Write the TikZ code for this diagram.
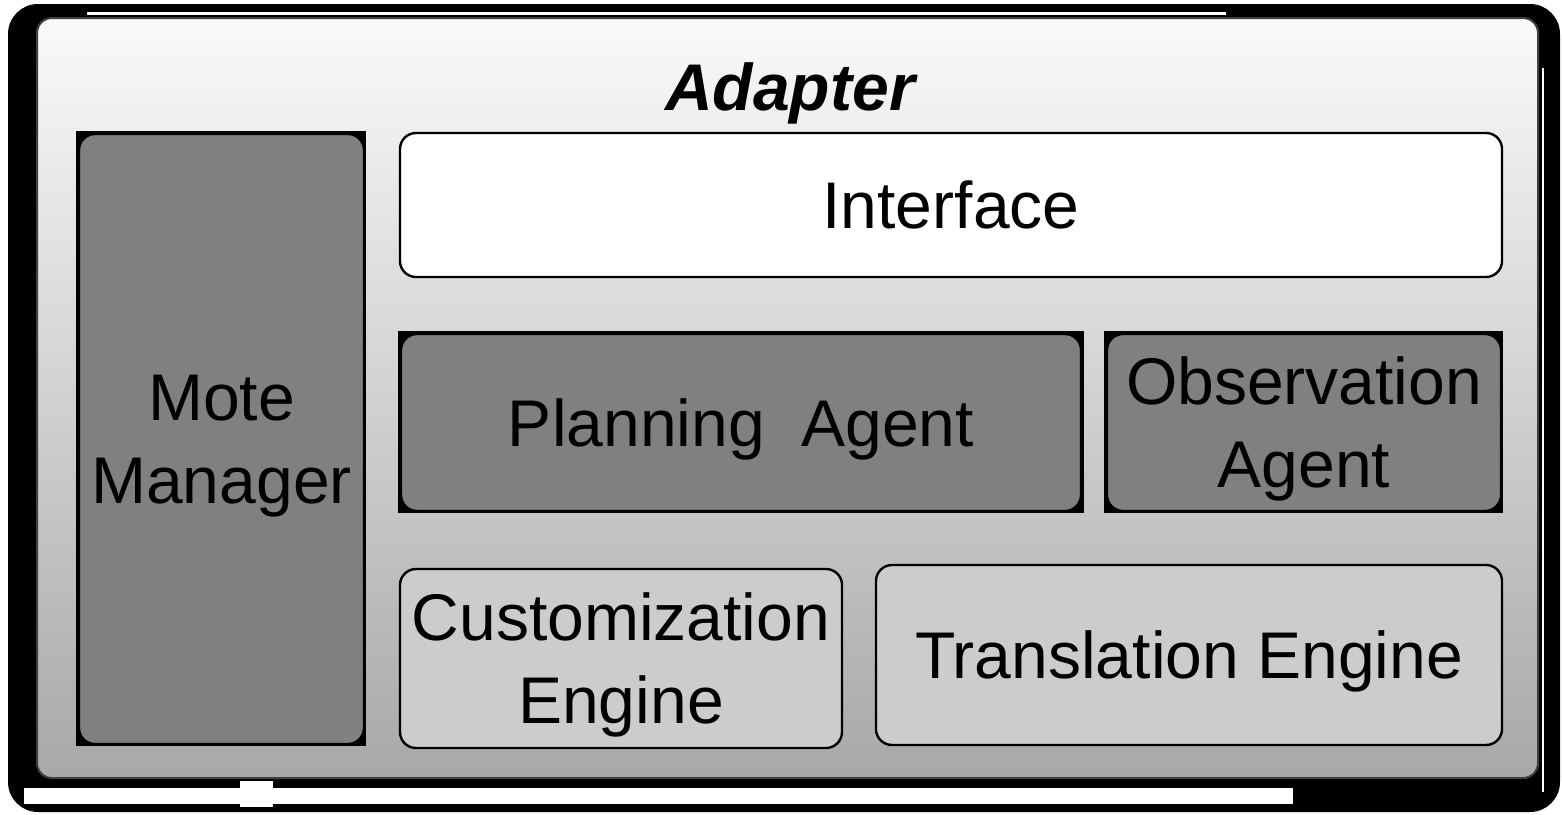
\documentclass[tikz,border=0pt]{standalone}
\usepackage{fontspec}
\setmainfont{Liberation Sans}
\usetikzlibrary{shadings}
\definecolor{midgray}{HTML}{808080}
\definecolor{lightbox}{HTML}{CCCCCC}
\definecolor{paneltop}{HTML}{FAFAFA}
\definecolor{panelbot}{HTML}{A8A8A8}
\begin{document}
\begin{tikzpicture}[x=0.5pt,y=-0.5pt,
  panel/.style={draw=black!75,line width=1pt,rounded corners=7.5pt,
    top color=paneltop,bottom color=panelbot,inner sep=0pt},
  backing/.style={fill=black,draw=none,inner sep=0pt},
  boxtext/.style={inner sep=0pt,align=center,text depth=0pt,
    font=\fontsize{33}{41.5}\selectfont},
  darkbox/.style={boxtext,fill=midgray,draw=black,line width=1.2pt,rounded corners=8pt},
  whitebox/.style={boxtext,fill=white,draw=black,line width=1.2pt,rounded corners=8pt},
  lightbox/.style={boxtext,fill=lightbox,draw=black,line width=1.2pt,rounded corners=8pt}]
\useasboundingbox (0,0) rectangle (1562,814);
% backdrop frame behind the panel
\fill[black,rounded corners=15pt] (8,4) rectangle (1560,812);
\fill[white] (24,788) rectangle (1293,804);
\fill[white] (240,781) rectangle (273,807);
\fill[white] (87,12) rectangle (1226,14.5);
\fill[white] (1541.5,68) rectangle (1543.5,792);
% main panel
\node[panel,minimum width=750.5pt,minimum height=380pt] (adapter) at (787.5,398) {};
\node[text depth=0pt,font=\fontsize{33}{40}\selectfont\bfseries\itshape] (title) at (790,87) {Adapter};
% mote manager
\node[backing,minimum width=145pt,minimum height=307.5pt] (moteback) at (221,438.5) {};
\node[darkbox,minimum width=142.5pt,minimum height=305pt] (mote) at (221.5,439) {Mote\\Manager};
% interface
\node[whitebox,minimum width=551pt,minimum height=72pt] (iface) at (951,205) {Interface};
% agents
\node[backing,minimum width=343pt,minimum height=91pt] (planback) at (741,422) {};
\node[darkbox,minimum width=340pt,minimum height=88.5pt] (plan) at (741,422.5) {Planning\ \ Agent};
\node[backing,minimum width=199.5pt,minimum height=91pt] (obsback) at (1303.5,422) {};
\node[darkbox,minimum width=197pt,minimum height=88.5pt] (obs) at (1304,422.5) {Observation\\Agent};
% engines
\node[lightbox,minimum width=221pt,minimum height=89.5pt] (custom) at (621,658.5) {Customization\\Engine};
\node[lightbox,minimum width=313pt,minimum height=90pt] (trans) at (1189,655) {Translation Engine};
\end{tikzpicture}
\end{document}
